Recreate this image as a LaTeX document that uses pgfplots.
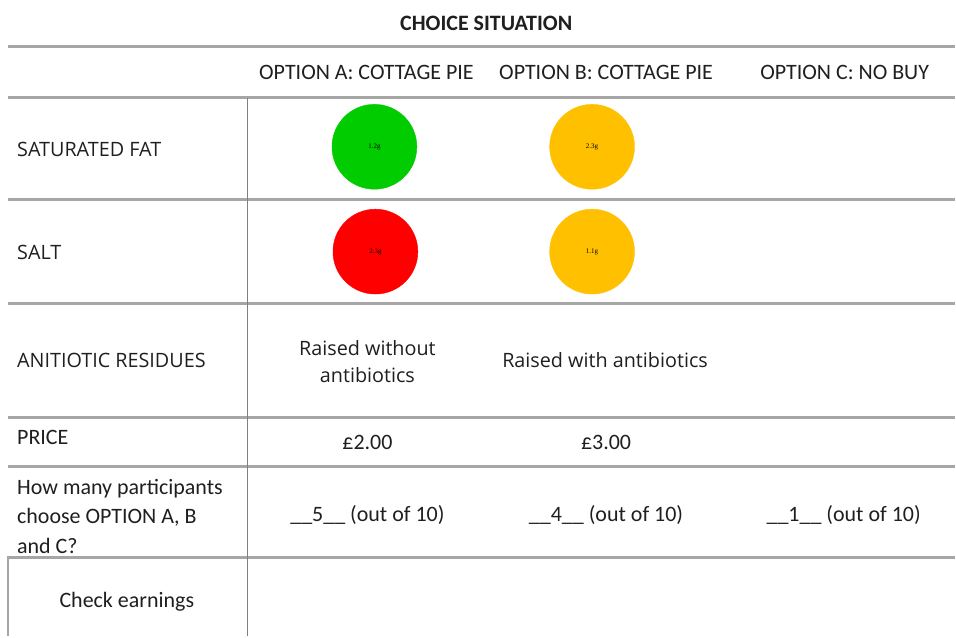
\documentclass[border=0pt]{standalone}
\usepackage{pgfplots}
\pgfplotsset{compat=1.18}
\usepackage{fontspec}
\setmainfont{Carlito}
\newfontfamily\osans{Open Sans}
\newfontfamily\tinyserif{Liberation Serif}
\definecolor{cgreen}{HTML}{00CC00}
\definecolor{corange}{HTML}{FFC000}
\definecolor{cred}{HTML}{FF0000}
\definecolor{rule}{HTML}{A6A6A6}
\definecolor{vrule}{HTML}{808080}
\tikzset{
  calib/.style={font=\fontsize{22}{29.5}\selectfont, text=black!88, inner sep=0pt},
  os/.style={font=\osans\fontsize{19.8}{27}\selectfont, text=black!88, inner sep=0pt},
}
\begin{document}
\begin{tikzpicture}
\begin{axis}[
  width=956pt, height=637pt, scale only axis,
  xmin=0, xmax=956, ymin=0, ymax=637, y dir=reverse,
  axis line style={draw=none}, xtick=\empty, ytick=\empty,
  clip=false,
]
% table rules
\addplot[rule, line width=3pt] coordinates {(8,47) (956,47)};
\addplot[rule, line width=3pt] coordinates {(8,98) (956,98)};
\addplot[rule, line width=3pt] coordinates {(8,200) (956,200)};
\addplot[rule, line width=3pt] coordinates {(8,304) (956,304)};
\addplot[rule, line width=3pt] coordinates {(8,418) (956,418)};
\addplot[rule, line width=3pt] coordinates {(8,467) (956,467)};
\addplot[rule, line width=3pt] coordinates {(8,558) (956,558)};
\addplot[vrule, line width=1.5pt] coordinates {(248,98) (248,637)};
\addplot[rule, line width=2pt] coordinates {(8,557) (8,637)};
% traffic-light circles
\addplot[only marks, mark=*, mark size=42.5pt, color=cgreen,
  nodes near coords, point meta=explicit symbolic,
  every node near coord/.append style={anchor=center, text=black, font=\tinyserif\fontsize{7}{8}\selectfont}]
  coordinates {(375,147) [1.2g]};
\addplot[only marks, mark=*, mark size=42.5pt, color=corange,
  nodes near coords, point meta=explicit symbolic,
  every node near coord/.append style={anchor=center, text=black, font=\tinyserif\fontsize{7}{8}\selectfont}]
  coordinates {(593,147) [2.3g] (593,252) [1.1g]};
\addplot[only marks, mark=*, mark size=42.5pt, color=cred,
  nodes near coords, point meta=explicit symbolic,
  every node near coord/.append style={anchor=center, text=black, font=\tinyserif\fontsize{7}{8}\selectfont}]
  coordinates {(376,252) [2.3g]};
% texts
\node[calib, font=\bfseries\fontsize{22}{29.5}\selectfont] at (axis cs:487,23) {CHOICE SITUATION};
\node[calib] at (axis cs:367,73) {OPTION A: COTTAGE PIE};
\node[calib] at (axis cs:607,73) {OPTION B: COTTAGE PIE};
\node[calib] at (axis cs:846,73) {OPTION C: NO BUY};
\node[os, anchor=west] at (axis cs:17,150) {SATURATED FAT};
\node[os, anchor=west] at (axis cs:17,253) {SALT};
\node[os, anchor=west] at (axis cs:17,361) {ANITIOTIC RESIDUES};
\node[os, align=center] at (axis cs:368,362) {Raised without\\antibiotics};
\node[os] at (axis cs:606,361) {Raised with antibiotics};
\node[calib, anchor=west] at (axis cs:17,438) {PRICE};
\node[calib] at (axis cs:368,443) {£2.00};
\node[calib] at (axis cs:607,443) {£3.00};
\node[calib, anchor=west, align=left] at (axis cs:17,517) {How many participants\\choose OPTION A, B\\and C?};
\node[calib] at (axis cs:368,516) {\_\_5\_\_ (out of 10)};
\node[calib] at (axis cs:607,516) {\_\_4\_\_ (out of 10)};
\node[calib] at (axis cs:845,516) {\_\_1\_\_ (out of 10)};
\node[calib] at (axis cs:127,603) {Check earnings};
\end{axis}
\end{tikzpicture}
\end{document}
